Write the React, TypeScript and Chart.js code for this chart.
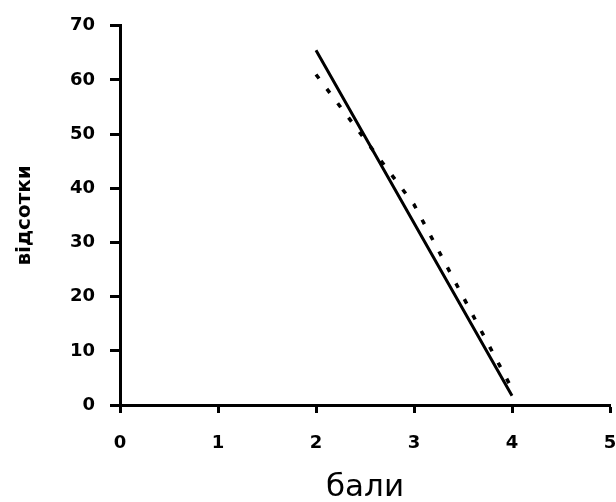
import React, { useEffect, useRef } from "react";
import { Chart, registerables } from "chart.js";

Chart.register(...registerables);

const xValues = [2, 3, 4];
const solidValues = [65.5, 33.6, 1.7];
const dottedValues = [61, 37, 3];
const xTitle = "бали";
const yTitle = "відсотки";

export default function App() {
  const ref = useRef<HTMLCanvasElement | null>(null);
  useEffect(() => {
    if (!ref.current) return;
    const font = "'DejaVu Sans', 'Liberation Sans', Arial, sans-serif";
    const chart = new Chart(ref.current, {
      type: "scatter",
      data: {
        datasets: [
          {
            data: xValues.map((x, i) => ({ x, y: solidValues[i] })),
            showLine: true,
            borderColor: "#000",
            borderWidth: 3,
            pointRadius: 0,
            fill: false,
          },
          {
            data: xValues.map((x, i) => ({ x, y: dottedValues[i] })),
            showLine: true,
            borderColor: "#000",
            borderWidth: 3.5,
            borderDash: [5, 13],
            pointRadius: 0,
            fill: false,
          },
        ],
      },
      options: {
        responsive: false,
        animation: false,
        layout: { padding: { top: 24, right: 30, left: 0, bottom: 0 } },
        plugins: { legend: { display: false }, tooltip: { enabled: false } },
        scales: {
          x: {
            type: "linear",
            min: 0,
            max: 5,
            afterFit: (s: any) => {
              s.height = 97;
            },
            ticks: {
              stepSize: 1,
              color: "#000",
              padding: 20,
              font: { family: font, size: 18, weight: "bold" },
            },
            grid: {
              drawOnChartArea: false,
              tickLength: 8,
              tickColor: "#000",
              tickWidth: 3,
            },
            border: { color: "#000", width: 3 },
            title: {
              display: true,
              text: xTitle,
              color: "#000",
              font: { family: font, size: 31 },
              padding: { top: 0, bottom: -5 },
            },
          },
          y: {
            type: "linear",
            min: 0,
            max: 70,
            afterFit: (s: any) => {
              s.width = 120;
            },
            ticks: {
              stepSize: 10,
              color: "#000",
              padding: 15,
              font: { family: font, size: 18, weight: "bold" },
            },
            grid: {
              drawOnChartArea: false,
              tickLength: 10,
              tickColor: "#000",
              tickWidth: 3,
            },
            border: { color: "#000", width: 3 },
            title: {
              display: true,
              text: yTitle,
              color: "#000",
              font: { family: font, size: 20, weight: "bold" },
              padding: { top: 13, bottom: 0 },
            },
          },
        },
      },
    });
    return () => chart.destroy();
  }, []);
  return (
    <div style={{ position: "fixed", left: 0, top: 0, width: 616, height: 502, overflow: "hidden", background: "#fff" }}>
      <canvas ref={ref} width={640} height={502} style={{ display: "block" }} />
    </div>
  );
}
